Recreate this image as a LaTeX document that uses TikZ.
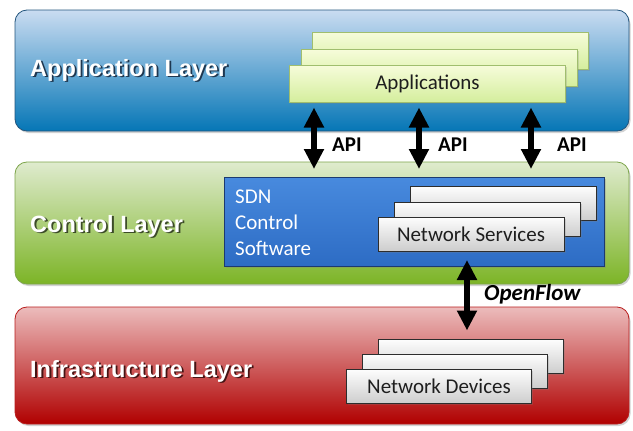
\documentclass[tikz,border=0pt]{standalone}
\usepackage{fontspec}
\setmainfont{Carlito}
\newfontfamily\layerfont{Liberation Sans}
\usetikzlibrary{arrows.meta,shadows}

% layer colours
\definecolor{apptop}{RGB}{202,220,241}
\definecolor{appmid}{RGB}{100,170,215}
\definecolor{appbot}{RGB}{5,118,182}
\definecolor{appedge}{RGB}{35,85,125}
\definecolor{appshade}{RGB}{30,55,80}
\definecolor{ctltop}{RGB}{223,235,206}
\definecolor{ctlmid}{RGB}{176,210,120}
\definecolor{ctlbot}{RGB}{124,180,38}
\definecolor{ctledge}{RGB}{125,165,75}
\definecolor{ctlshade}{RGB}{60,75,40}
\definecolor{inftop}{RGB}{236,188,188}
\definecolor{infmid}{RGB}{212,95,95}
\definecolor{infbot}{RGB}{176,0,0}
\definecolor{infedge}{RGB}{185,30,30}
\definecolor{infshade}{RGB}{70,20,20}
% inner boxes
\definecolor{sdntop}{RGB}{72,138,222}
\definecolor{sdnbot}{RGB}{45,108,196}
\definecolor{sdnedge}{RGB}{28,58,112}
\definecolor{apbtop}{RGB}{246,252,218}
\definecolor{apbbot}{RGB}{212,238,156}
\definecolor{apbedge}{RGB}{160,190,110}
\definecolor{nsbtop}{RGB}{253,253,253}
\definecolor{nsbbot}{RGB}{205,205,205}
\definecolor{nsbedge}{RGB}{45,45,45}
\definecolor{txtdark}{RGB}{30,30,30}

% white title over a dark copy shifted down and right
\newcommand\embossedtitle[2]{\rlap{\hspace{1.8pt}\raisebox{-1.8pt}{\textcolor{#1}{#2}}}#2}

\begin{document}
\begin{tikzpicture}[x=1pt,y=-1pt,
  layer/.style={line width=0.8pt, rounded corners=12pt, inner sep=0pt, outer sep=0pt,
    minimum width=614pt,
    drop shadow={opacity=0.35, shadow xshift=1.5pt, shadow yshift=-2pt}},
  lbl/.style={text=white, font=\layerfont\bfseries\fontsize{23.5}{26}\selectfont,
    inner sep=0pt, anchor=base west},
  sdnbox/.style={draw=sdnedge, line width=1pt, top color=sdntop, bottom color=sdnbot,
    inner sep=0pt, outer sep=0pt,
    drop shadow={opacity=0.3, shadow xshift=1.5pt, shadow yshift=-1.5pt}},
  appbox/.style={draw=apbedge, line width=0.8pt, top color=apbtop, bottom color=apbbot,
    inner sep=0pt, outer sep=0pt, minimum width=276pt, minimum height=37pt,
    text=txtdark, font=\fontsize{21}{24}\selectfont,
    drop shadow={opacity=0.25, shadow xshift=1.5pt, shadow yshift=-1.5pt}},
  nsbox/.style={draw=nsbedge, line width=1pt, top color=nsbtop, bottom color=nsbbot,
    inner sep=0pt, outer sep=0pt, minimum width=186pt, minimum height=34pt,
    text=txtdark, font=\fontsize{21}{24}\selectfont,
    drop shadow={opacity=0.25, shadow xshift=1.5pt, shadow yshift=-1.5pt}},
  biarrow/.style={line width=6pt, draw=black,
    {Triangle[width=19pt,length=20pt]}-{Triangle[width=19pt,length=20pt]}},
  apitext/.style={font=\bfseries\fontsize{21}{24}\selectfont, inner sep=0pt, anchor=west},
  sdntext/.style={text=white, font=\fontsize{21}{24}\selectfont, inner sep=0pt, anchor=base west}
]
\useasboundingbox[fill=white] (0,0) rectangle (633,431);

% ---------- three layers ----------
\node[layer, draw=appedge, top color=apptop, middle color=appmid, bottom color=appbot,
  minimum height=121pt] (applayer) at (322,70.5) {};
\node[layer, draw=ctledge, top color=ctltop, middle color=ctlmid, bottom color=ctlbot,
  minimum height=122pt] (ctllayer) at (322,223) {};
\node[layer, draw=infedge, top color=inftop, middle color=infmid, bottom color=infbot,
  minimum height=117pt] (inflayer) at (322,365.5) {};

% layer titles
\node[lbl] (applbl) at (30,76) {\embossedtitle{appshade}{Application Layer}};
\node[lbl] (ctllbl) at (30,232) {\embossedtitle{ctlshade}{Control Layer}};
\node[lbl] (inflbl) at (30,377) {\embossedtitle{infshade}{Infrastructure Layer}};

% ---------- applications stack ----------
\node[appbox] (appback) at (450,51) {};
\node[appbox] (appmidbox) at (439,68) {};
\node[appbox] (appfront) at (427.5,84) {Applications};

% ---------- SDN control software ----------
\node[sdnbox, minimum width=380pt, minimum height=89pt] (sdn) at (414,221.5) {};
\node[sdntext] (sdn1) at (235,203) {SDN};
\node[sdntext] (sdn2) at (235,229) {Control};
\node[sdntext] (sdn3) at (235,255) {Software};

\node[nsbox] (nsback) at (503.5,203.5) {};
\node[nsbox] (nsmid) at (487,219.5) {};
\node[nsbox] (nsfront) at (471,234) {Network Services};

% ---------- network devices stack ----------
\node[nsbox, minimum width=185pt] (devback) at (470.5,356.5) {};
\node[nsbox, minimum width=185pt] (devmid) at (454.5,371) {};
\node[nsbox, minimum width=185pt] (devfront) at (439,386.5) {Network Devices};

% ---------- northbound API arrows ----------
\draw[biarrow] ([xshift=-113.5pt,yshift=-5pt]appfront.south) -- ([xshift=-100pt,yshift=8pt]sdn.north);
\draw[biarrow] ([xshift=-8.5pt,yshift=-5pt]appfront.south) -- ([xshift=5pt,yshift=8pt]sdn.north);
\draw[biarrow] ([xshift=103.5pt,yshift=-5pt]appfront.south) -- ([xshift=117pt,yshift=8pt]sdn.north);
\node[apitext] (api1) at (332,145) {API};
\node[apitext] (api2) at (438,145) {API};
\node[apitext] (api3) at (557,145) {API};

% ---------- southbound OpenFlow arrow ----------
\draw[biarrow] ([xshift=-4pt,yshift=-9pt]nsfront.south) -- ([xshift=-3.5pt,yshift=9pt]devback.north);
\node[apitext, font=\bfseries\itshape\fontsize{23}{25}\selectfont] (oflbl) at (484,294) {OpenFlow};
\end{tikzpicture}
\end{document}
